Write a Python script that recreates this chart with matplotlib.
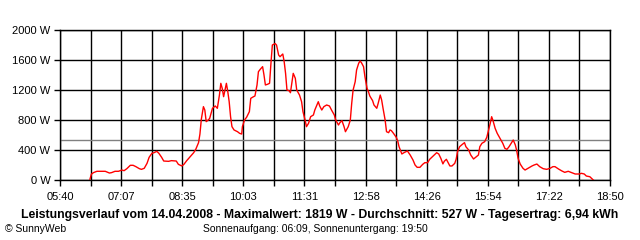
import matplotlib
matplotlib.use("Agg")
import matplotlib.pyplot as plt
import numpy as np

zeiten = ["06:23", "06:25", "06:28", "06:33", "06:45", "06:51", "06:54", "06:59", "07:04", "07:09",
          "07:12", "07:16", "07:21", "07:25", "07:29", "07:34", "07:37", "07:41", "07:45", "07:48",
          "07:52", "07:55", "07:59", "08:02", "08:06", "08:09", "08:16", "08:20", "08:27", "08:30",
          "08:35", "08:38", "08:42", "08:47", "08:52", "08:55", "08:59", "09:01", "09:03", "09:06",
          "09:08", "09:10", "09:13", "09:15", "09:19", "09:23", "09:26", "09:29", "09:31", "09:33",
          "09:35", "09:37", "09:39", "09:41", "09:43", "09:45", "09:47", "09:50", "09:55", "09:58",
          "10:01", "10:02", "10:05", "10:08", "10:12", "10:14", "10:18", "10:20", "10:23", "10:25",
          "10:28", "10:31", "10:33", "10:35", "10:38", "10:41", "10:43", "10:45", "10:49", "10:51",
          "10:54", "10:56", "11:00", "11:02", "11:04", "11:06", "11:09", "11:11", "11:13", "11:15",
          "11:18", "11:20", "11:24", "11:27", "11:29", "11:32", "11:34", "11:37", "11:40", "11:44",
          "11:46", "11:49", "11:51", "11:53", "11:56", "11:59", "12:03", "12:07", "12:10", "12:14",
          "12:16", "12:20", "12:22", "12:25", "12:28", "12:30", "12:34", "12:37", "12:39", "12:41",
          "12:44", "12:46", "12:49", "12:51", "12:53", "12:56", "12:58", "13:01", "13:03", "13:05",
          "13:09", "13:11", "13:15", "13:17", "13:20", "13:22", "13:24", "13:27", "13:29", "13:32",
          "13:34", "13:36", "13:39", "13:43", "13:45", "13:47", "13:51", "13:54", "13:59", "14:03",
          "14:07", "14:10", "14:13", "14:17", "14:21", "14:24", "14:28", "14:31", "14:36", "14:41",
          "14:44", "14:47", "14:50", "14:52", "14:55", "14:58", "15:00", "15:03", "15:07", "15:09",
          "15:11", "15:14", "15:18", "15:21", "15:23", "15:27", "15:30", "15:34", "15:38", "15:41",
          "15:43", "15:46", "15:50", "15:53", "15:55", "15:58", "16:00", "16:02", "16:05", "16:08",
          "16:12", "16:16", "16:19", "16:22", "16:25", "16:28", "16:31", "16:34", "16:36", "16:38",
          "16:41", "16:45", "16:48", "16:53", "16:58", "17:01", "17:05", "17:09", "17:14", "17:19",
          "17:24", "17:28", "17:31", "17:36", "17:41", "17:45", "17:50", "17:55", "18:00", "18:06",
          "18:09", "18:13", "18:16", "18:21", "18:25", "18:26"]
leistung = [10, 76, 98, 116, 116, 93, 98, 116, 116, 133,
            124, 151, 196, 196, 178, 151, 142, 156, 222, 302,
            356, 364, 382, 356, 302, 253, 249, 258, 253, 209,
            187, 209, 258, 311, 364, 409, 498, 613, 810, 978,
            933, 778, 800, 822, 956, 987, 956, 1133, 1289, 1222,
            1111, 1200, 1289, 1178, 1044, 844, 711, 667, 644, 622,
            613, 711, 800, 836, 911, 1089, 1111, 1120, 1267, 1444,
            1480, 1511, 1400, 1267, 1276, 1289, 1556, 1800, 1819, 1800,
            1667, 1644, 1680, 1578, 1422, 1200, 1191, 1164, 1289, 1422,
            1356, 1200, 1133, 1044, 911, 800, 711, 756, 844, 867,
            933, 1000, 1044, 987, 933, 978, 1000, 987, 933, 867,
            800, 733, 764, 791, 711, 644, 711, 800, 1022, 1200,
            1311, 1467, 1556, 1587, 1564, 1511, 1378, 1222, 1178, 1120,
            1058, 1000, 956, 1022, 1133, 1067, 956, 800, 644, 631,
            667, 658, 622, 569, 524, 444, 347, 364, 387, 333,
            267, 200, 169, 169, 209, 231, 231, 276, 320, 364,
            347, 289, 215, 250, 276, 222, 187, 187, 222, 276,
            378, 444, 476, 498, 444, 400, 333, 280, 311, 333,
            444, 489, 511, 569, 644, 756, 844, 791, 689, 622,
            556, 489, 422, 409, 444, 489, 533, 467, 391, 289,
            213, 156, 133, 160, 187, 200, 213, 178, 151, 142,
            156, 178, 178, 147, 120, 102, 116, 98, 80, 80,
            89, 80, 53, 44, 9, 0]

durchschnitt = 527
x_labels = ["05:40", "07:07", "08:35", "10:03", "11:31", "12:58", "14:26", "15:54", "17:22", "18:50"]
y_werte = [0, 400, 800, 1200, 1600, 2000]

plt.rcParams['font.family'] = ['Liberation Sans', 'DejaVu Sans']


def minuten(t):
    h, m = t.split(":")
    return int(h) * 60 + int(m)


x = np.array([minuten(t) for t in zeiten])
start, ende = 340, 1130

fig = plt.figure(figsize=(6.4, 2.4), dpi=100)
ax = fig.add_axes([60 / 640, 60 / 240, 550 / 640, 150 / 240])

gitter = np.linspace(start, ende, 19)
for g in gitter:
    ax.axvline(g, color="black", lw=1.0, zorder=1)
for w in y_werte:
    ax.axhline(w, color="black", lw=1.0, zorder=1)

ax.axhline(durchschnitt, color="#808080", lw=1.0, zorder=2)
ax.plot(x, leistung, color="red", lw=1.0, zorder=3)

ax.set_xlim(start, ende)
ax.set_ylim(0, 2000)
ax.set_xticks(gitter[::2])
ax.set_xticklabels(x_labels)
ax.set_xticks(gitter[1::2], minor=True)
ax.set_yticks(y_werte)
ax.set_yticklabels([f"{w} W" for w in y_werte])
ax.tick_params(axis="both", which="both", direction="out", length=4, width=1.0,
               colors="black", labelsize=8, pad=3)
ax.tick_params(axis="x", which="major", pad=5)
for s in ax.spines.values():
    s.set_linewidth(1.0)
    s.set_color("black")

fig.text(0.5, 1 - 215 / 240,
         "Leistungsverlauf vom 14.04.2008 - Maximalwert: 1819 W - Durchschnitt: 527 W - Tagesertrag: 6,94 kWh",
         ha="center", va="center", fontsize=8.8, fontweight="bold")
fig.text(5 / 640, 1 - 229 / 240, "© SunnyWeb", ha="left", va="center", fontsize=7.5)
fig.text(315 / 640, 1 - 229 / 240, "Sonnenaufgang: 06:09, Sonnenuntergang: 19:50",
         ha="center", va="center", fontsize=7.5)

plt.savefig("out.png", dpi=100)
